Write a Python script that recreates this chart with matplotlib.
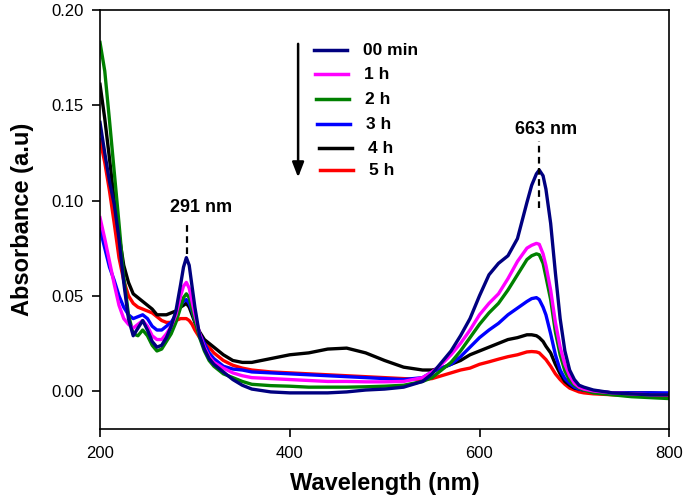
import matplotlib
matplotlib.use("Agg")
import matplotlib.pyplot as plt
import numpy as np

plt.rcParams['font.family'] = ['Liberation Sans', 'DejaVu Sans']

wavelength = [200, 205, 210, 215, 220, 225, 230, 235, 240, 245, 250, 255, 260, 265, 270, 275, 280, 285, 288, 291, 294, 297,
              300, 305, 310, 315, 320, 330, 340, 350, 360, 380, 400, 420, 440, 460, 480, 500, 520, 540, 550, 560, 570,
              580, 590, 600, 610, 620, 630, 640, 650, 655, 660, 663, 667, 670, 675, 680, 685, 690, 695, 700, 705, 710,
              720, 740, 760, 780, 800]

abs_00min = [0.141, 0.125, 0.110, 0.098, 0.080, 0.057, 0.038, 0.029, 0.033, 0.037, 0.032, 0.026, 0.023, 0.024, 0.028, 0.034,
             0.042, 0.056, 0.065, 0.070, 0.066, 0.055, 0.044, 0.029, 0.022, 0.017, 0.014, 0.010, 0.006, 0.003, 0.001,
             -0.0005, -0.001, -0.001, -0.001, -0.0005, 0.0005, 0.001, 0.002, 0.005, 0.009, 0.015, 0.021, 0.029, 0.038,
             0.050, 0.061, 0.067, 0.071, 0.080, 0.099, 0.108, 0.114, 0.116, 0.113, 0.106, 0.088, 0.062, 0.038, 0.021,
             0.011, 0.006, 0.003, 0.002, 0.0005, -0.001, -0.0015, -0.002, -0.002]

abs_1h = [0.091, 0.080, 0.068, 0.056, 0.045, 0.038, 0.035, 0.033, 0.035, 0.037, 0.034, 0.029, 0.027, 0.027, 0.030, 0.034,
          0.040, 0.050, 0.055, 0.057, 0.054, 0.047, 0.040, 0.030, 0.023, 0.018, 0.015, 0.012, 0.0095, 0.008, 0.007,
          0.0065, 0.006, 0.0055, 0.005, 0.005, 0.0048, 0.0048, 0.005, 0.007, 0.010, 0.014, 0.019, 0.025, 0.032,
          0.040, 0.046, 0.051, 0.059, 0.068, 0.075, 0.0765, 0.0775, 0.077, 0.072, 0.066, 0.053, 0.036, 0.023, 0.014,
          0.008, 0.004, 0.002, 0.001, 0.0, -0.001, -0.0015, -0.002, -0.002]

abs_2h = [0.183, 0.168, 0.142, 0.115, 0.088, 0.060, 0.040, 0.030, 0.029, 0.032, 0.029, 0.024, 0.021, 0.022, 0.026, 0.030,
          0.036, 0.044, 0.049, 0.051, 0.049, 0.043, 0.037, 0.028, 0.021, 0.016, 0.013, 0.009, 0.007, 0.005, 0.0035,
          0.0028, 0.0025, 0.002, 0.002, 0.002, 0.0022, 0.0025, 0.003, 0.005, 0.007, 0.011, 0.015, 0.021, 0.028,
          0.035, 0.041, 0.046, 0.053, 0.061, 0.069, 0.071, 0.072, 0.0715, 0.067, 0.060, 0.048, 0.031, 0.019, 0.0105,
          0.0055, 0.003, 0.0015, 0.0005, -0.001, -0.002, -0.003, -0.0035, -0.004]

abs_3h = [0.085, 0.075, 0.065, 0.058, 0.050, 0.044, 0.040, 0.038, 0.039, 0.040, 0.038, 0.034, 0.032, 0.032, 0.034, 0.036,
          0.040, 0.045, 0.047, 0.048, 0.046, 0.042, 0.037, 0.030, 0.025, 0.020, 0.017, 0.013, 0.0115, 0.011, 0.010,
          0.0095, 0.009, 0.0085, 0.008, 0.0075, 0.007, 0.0065, 0.006, 0.007, 0.010, 0.012, 0.014, 0.018, 0.023,
          0.028, 0.032, 0.0355, 0.040, 0.0435, 0.047, 0.0485, 0.049, 0.048, 0.044, 0.040, 0.030, 0.019, 0.011, 0.0065,
          0.004, 0.002, 0.001, 0.0005, 0.0, -0.001, -0.001, -0.001, -0.001]

abs_4h = [0.161, 0.143, 0.122, 0.100, 0.082, 0.066, 0.057, 0.051, 0.049, 0.047, 0.045, 0.043, 0.040, 0.040, 0.040, 0.041,
          0.042, 0.044, 0.045, 0.046, 0.044, 0.040, 0.036, 0.031, 0.027, 0.025, 0.023, 0.019, 0.016, 0.015, 0.015,
          0.017, 0.019, 0.020, 0.022, 0.0225, 0.020, 0.016, 0.0125, 0.011, 0.011, 0.012, 0.014, 0.016, 0.019,
          0.021, 0.023, 0.025, 0.027, 0.028, 0.0295, 0.0295, 0.029, 0.028, 0.026, 0.0235, 0.020, 0.014, 0.009, 0.005,
          0.003, 0.0015, 0.001, 0.0005, 0.0, -0.001, -0.001, -0.001, -0.0015]

abs_5h = [0.132, 0.120, 0.105, 0.088, 0.070, 0.058, 0.050, 0.046, 0.044, 0.043, 0.042, 0.041, 0.039, 0.037, 0.036, 0.036,
          0.037, 0.038, 0.038, 0.038, 0.037, 0.035, 0.032, 0.028, 0.025, 0.023, 0.020, 0.016, 0.0135, 0.012, 0.011,
          0.010, 0.0095, 0.009, 0.0085, 0.008, 0.0075, 0.007, 0.0065, 0.006, 0.0065, 0.008, 0.0095, 0.011, 0.012,
          0.014, 0.0153, 0.0167, 0.018, 0.019, 0.0205, 0.0207, 0.0205, 0.020, 0.018, 0.0165, 0.013, 0.009, 0.006, 0.0035,
          0.0015, 0.0005, -0.0005, -0.001, -0.0015, -0.002, -0.0025, -0.003, -0.003]

series_labels = ['00 min', '1 h', '2 h', '3 h', '4 h', '5 h']
series_values = [abs_00min, abs_1h, abs_2h, abs_3h, abs_4h, abs_5h]
series_colors = ['#000080', '#FF00FF', '#008000', '#0000FF', '#000000', '#FF0000']
peak_labels = [291, 663]

fig = plt.figure(figsize=(6.85, 5.03), dpi=100)
ax = fig.add_axes([0.146, 0.147, 0.831, 0.833])

for lab, vals, col in reversed(list(zip(series_labels, series_values, series_colors))):
    ax.plot(wavelength, vals, color=col, lw=2.4, solid_joinstyle='round')

ax.set_xlim(200, 800)
ax.set_ylim(-0.02, 0.20)
ax.set_xticks([200, 400, 600, 800])
ax.set_yticks([0.00, 0.05, 0.10, 0.15, 0.20])
ax.set_yticklabels(['0.00', '0.05', '0.10', '0.15', '0.20'])
ax.tick_params(direction='out', length=6, width=1.2, labelsize=12, top=False, right=False, pad=6)
for s in ax.spines.values():
    s.set_linewidth(1.2)

ax.set_xlabel('Wavelength (nm)', fontsize=17, fontweight='bold', labelpad=8)
ax.set_ylabel('Absorbance (a.u)', fontsize=17, fontweight='bold', labelpad=12)

# peak annotations
wl = np.array(wavelength)
navy = np.array(abs_00min)
for pk in peak_labels:
    i = int(np.argmin(np.abs(wl - pk)))
    top = navy[i]
    if pk < 400:
        ax.plot([wl[i] + 1, wl[i] + 1], [top + 0.002, top + 0.018], ls=(0, (3, 2)), color='black', lw=1.6)
        ax.text(wl[i] + 15, top + 0.022, f'{pk} nm', ha='center', va='bottom', fontsize=13, fontweight='bold')
    else:
        ax.plot([wl[i], wl[i]], [top - 0.02, top + 0.015], ls=(0, (3, 2)), color='black', lw=1.6)
        ax.text(wl[i] + 7, top + 0.017, f'{pk} nm', ha='center', va='bottom', fontsize=13, fontweight='bold')

# custom legend with arrow
ax.annotate('', xy=(0.348, 0.594), xytext=(0.348, 0.926), xycoords='axes fraction',
            arrowprops=dict(arrowstyle='-|>,head_width=0.35,head_length=0.9', color='black', lw=1.8))
row_y = [0.9045, 0.847, 0.7876, 0.728, 0.6706, 0.618]
for k, (lab, col) in enumerate(zip(series_labels, series_colors)):
    y = row_y[k]
    x0 = 0.376 + 0.002 * k
    ax.plot([x0, x0 + 0.058], [y, y], color=col, lw=2.5, transform=ax.transAxes)
    ax.text(0.462 + 0.002 * k, y, lab, transform=ax.transAxes, ha='left', va='center',
            fontsize=12.5, fontweight='bold')

fig.savefig('out.png', dpi=100)
